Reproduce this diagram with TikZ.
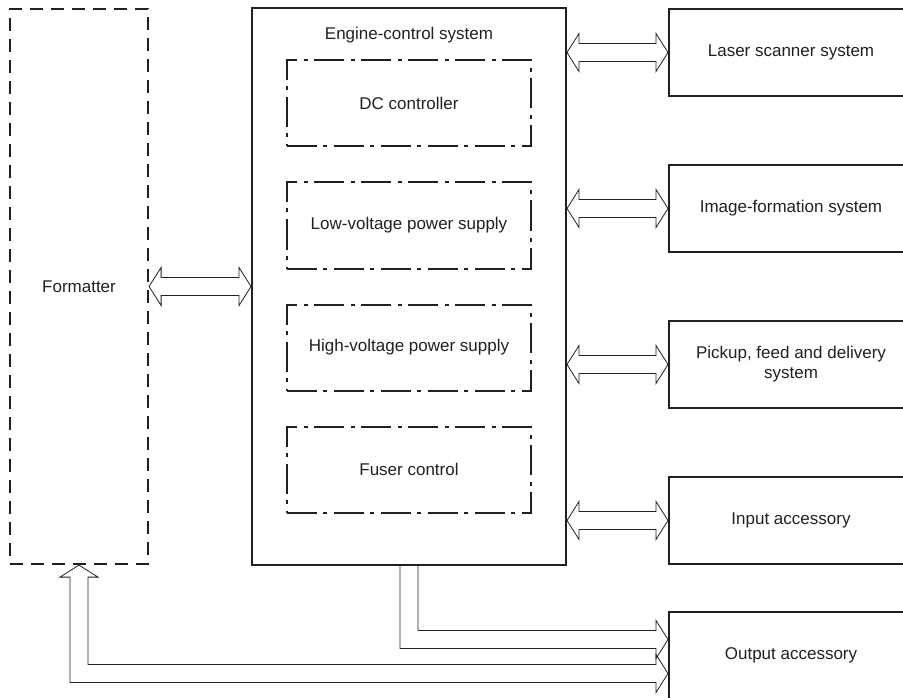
\documentclass[tikz,border=0pt]{standalone}
\usepackage{fontspec}
\setmainfont{Liberation Sans}
\usetikzlibrary{positioning, calc}
\definecolor{inkgray}{RGB}{35,31,32}

\begin{document}
\begin{tikzpicture}[
    x=1pt, y=-1pt,
    font=\fontsize{17}{20}\selectfont,
    node distance=34pt,
    box/.style={draw=inkgray, line width=2pt, minimum width=244pt, minimum height=87pt, align=center, text=inkgray, inner sep=0pt},
    unit/.style={draw=inkgray, line width=2pt, dash pattern=on 30pt off 6pt on 4pt off 7pt, minimum width=244pt, minimum height=86pt, text=inkgray, inner sep=0pt},
    hollowtwo/.style={draw=inkgray, line width=0.8pt, to path={let \p1=(\tikztostart), \p2=(\tikztotarget) in
        (\x1,\y1) -- (\x1+12pt,\y1+19pt) -- (\x1+12pt,\y1+9pt) -- (\x2-12pt,\y1+9pt) -- (\x2-12pt,\y1+19pt) -- (\x2,\y1)
        -- (\x2-12pt,\y1-19pt) -- (\x2-12pt,\y1-9pt) -- (\x1+12pt,\y1-9pt) -- (\x1+12pt,\y1-19pt) -- cycle}},
    hollowbend/.style={draw=inkgray, line width=0.8pt, to path={let \p1=(\tikztostart), \p2=(\tikztotarget) in
        (\x1-9pt,\y1) -- (\x1-9pt,\y2-9pt) -- (\x2-12pt,\y2-9pt) -- (\x2-12pt,\y2-19pt) -- (\x2,\y2)
        -- (\x2-12pt,\y2+19pt) -- (\x2-12pt,\y2+9pt) -- (\x1+9pt,\y2+9pt) -- (\x1+9pt,\y1)}},
    hollowbendtwo/.style={draw=inkgray, line width=0.8pt, to path={let \p1=(\tikztostart), \p2=(\tikztotarget) in
        (\x1,\y1) -- (\x1-19pt,\y1-12pt) -- (\x1-9pt,\y1-12pt) -- (\x1-9pt,\y2-9pt) -- (\x2-12pt,\y2-9pt) -- (\x2-12pt,\y2-19pt) -- (\x2,\y2)
        -- (\x2-12pt,\y2+19pt) -- (\x2-12pt,\y2+9pt) -- (\x1+9pt,\y2+9pt) -- (\x1+9pt,\y1-12pt) -- (\x1+19pt,\y1-12pt) -- cycle}}
]
    \useasboundingbox (0,0) rectangle (903,698);
    \clip (0,0) rectangle (903,698);

    % formatter and engine-control system
    \node[draw=inkgray, line width=2.2pt, dash pattern=on 13pt off 8pt, minimum width=138pt, minimum height=555pt, text=inkgray] (formatter) at (79,286.5) {Formatter};
    \node[draw=inkgray, line width=2pt, minimum width=314pt, minimum height=557pt] (engine) at (409,286.5) {};
    \node[text=inkgray] (englabel) at (409,35) {Engine-control system};

    \node[unit] (dcctrl) at (409,103.5) {DC controller};
    \node[unit, below=of dcctrl] (lvps) {Low-voltage power supply};
    \node[unit, below=of lvps] (hvps) {High-voltage power supply};
    \node[unit, below=of hvps] (fuser) {Fuser control};

    % systems on the right
    \node[box] (laser) at (791,52.5) {Laser scanner system};
    \node[box, below=67pt of laser] (imgform) {Image-formation system};
    \node[box, below=67pt of imgform] (pickup) {Pickup, feed and delivery\\system};
    \node[box, below=67pt of pickup] (inacc) {Input accessory};
    \node[box, below=46pt of inacc] (outacc) {Output accessory};

    \coordinate (outA) at ($(outacc.west)+(0,-16)$);
    \coordinate (outB) at ($(outacc.west)+(0,18)$);

    \draw[hollowtwo] (formatter.east) to (engine.west);
    \draw[hollowtwo] (engine.east |- laser.west) to (laser.west);
    \draw[hollowtwo] (engine.east |- imgform.west) to (imgform.west);
    \draw[hollowtwo] (engine.east |- pickup.west) to (pickup.west);
    \draw[hollowtwo] (engine.east |- inacc.west) to (inacc.west);
    \draw[hollowbend] (engine.south) to (outA);
    \draw[hollowbendtwo] (formatter.south) to (outB);
\end{tikzpicture}
\end{document}
